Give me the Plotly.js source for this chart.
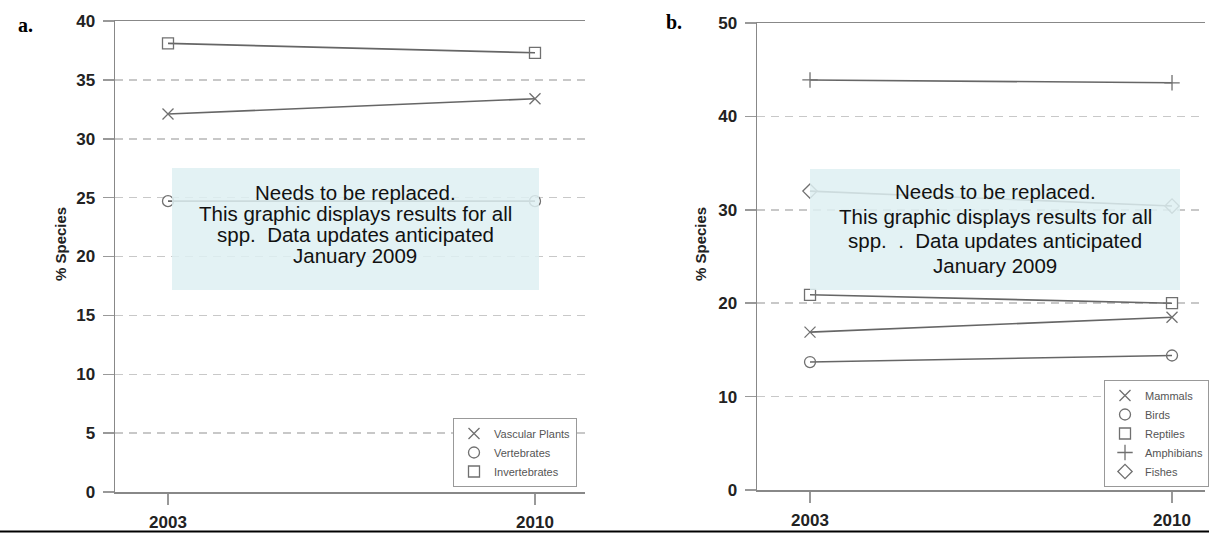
<!DOCTYPE html>
<html>
<head>
<meta charset="utf-8">
<script src="https://cdn.plot.ly/plotly-3.0.1.min.js"></script>
<style>
  html, body { margin: 0; padding: 0; background: #fff; }
  #chart { width: 1209px; height: 533px; }
</style>
</head>
<body>
<div id="chart"></div>
<script>
// Survey years shared by both panels
const years = [2003, 2010];

// Panel a: broad groups (% of species)
const groupsA = ["Vascular Plants", "Vertebrates", "Invertebrates"];
const vascularPlants = [32.1, 33.4];
const vertebrates = [24.7, 24.7];
const invertebrates = [38.1, 37.3];

// Panel b: vertebrate classes (% of species)
const groupsB = ["Mammals", "Birds", "Reptiles", "Amphibians", "Fishes"];
const mammals = [16.9, 18.5];
const birds = [13.7, 14.4];
const reptiles = [20.9, 20.0];
const amphibians = [43.9, 43.6];
const fishes = [32.0, 30.4];

const yTicksA = [0, 5, 10, 15, 20, 25, 30, 35, 40];
const yTicksB = [0, 10, 20, 30, 40, 50];

// Placeholder notes, one entry per text line
const noteA = ["Needs to be replaced.", "This graphic displays results for all",
               "spp.&nbsp; Data updates anticipated", "January 2009"];
const noteB = ["Needs to be replaced.", "This graphic displays results for all",
               "spp. &nbsp;. &nbsp;Data updates anticipated", "January 2009"];

const FONT = "Liberation Sans, Arial, sans-serif";
const LINE = "#666";
const MARK = "#707070";

function series(name, vals, symbol, xa, ya, legendId) {
  const common = { x: years, y: vals, xaxis: xa, yaxis: ya, hoverinfo: "skip" };
  return [
    Object.assign({}, common, {
      type: "scatter", mode: "lines", showlegend: false,
      line: { color: LINE, width: 1.6 }
    }),
    Object.assign({}, common, {
      type: "scatter", mode: "markers", name: name, legend: legendId,
      marker: { symbol: symbol, size: 11, color: MARK,
                line: { color: MARK, width: 1.3 } }
    })
  ];
}

const data = [].concat(
  series(groupsA[0], vascularPlants, "x-thin-open", "x", "y", "legend"),
  series(groupsA[1], vertebrates, "circle-open", "x", "y", "legend"),
  series(groupsA[2], invertebrates, "square-open", "x", "y", "legend"),
  series(groupsB[0], mammals, "x-thin-open", "x2", "y2", "legend2"),
  series(groupsB[1], birds, "circle-open", "x2", "y2", "legend2"),
  series(groupsB[2], reptiles, "square-open", "x2", "y2", "legend2"),
  series(groupsB[3], amphibians, "cross-thin-open", "x2", "y2", "legend2"),
  series(groupsB[4], fishes, "diamond-open", "x2", "y2", "legend2")
);

function xAxis(domain, range, anchor) {
  return {
    domain: domain, range: range, anchor: anchor,
    tickmode: "array", tickvals: years, ticktext: years.map(String),
    showgrid: false, zeroline: false,
    showline: true, linecolor: "#888", linewidth: 1.5, mirror: true,
    ticks: "outside", ticklen: 11, tickwidth: 1.5, tickcolor: "#999",
    ticklabelstandoff: 3,
    tickfont: { family: FONT, size: 17, color: "#222", weight: "bold" }
  };
}

function yAxis(domain, range, ticks, anchor) {
  return {
    domain: domain, range: range, anchor: anchor,
    tickmode: "array", tickvals: ticks,
    showgrid: true, gridcolor: "#c8c8c8", gridwidth: 1.5, griddash: "8px,6px",
    zeroline: false,
    showline: true, linecolor: "#888", linewidth: 1.5,
    ticks: "outside", ticklen: 11, tickwidth: 1.5, tickcolor: "#999",
    ticklabelstandoff: 4,
    tickfont: { family: FONT, size: 17, color: "#222", weight: "bold" }
  };
}

const legendStyle = {
  bgcolor: "#fff", bordercolor: "#999", borderwidth: 1,
  font: { family: FONT, size: 11, color: "#555" },
  xanchor: "left", yanchor: "top", itemwidth: 30
};

// Translucent note panel plus its centred text lines
function noteBox(x0, x1, y0, y1) {
  return {
    type: "rect", xref: "paper", yref: "paper", layer: "above",
    x0: x0 / 1209, x1: x1 / 1209, y0: 1 - y1 / 533, y1: 1 - y0 / 533,
    fillcolor: "rgba(222,240,242,0.85)", line: { width: 0 }
  };
}
function noteLines(lines, cx, ys) {
  return lines.map((t, i) => ({
    xref: "paper", yref: "paper", x: cx / 1209, y: 1 - ys[i] / 533,
    xanchor: "center", yanchor: "middle", showarrow: false, text: t,
    font: { family: FONT, size: 20.5, color: "#111" }
  }));
}

function yTitle(xpx) {
  return {
    xref: "paper", yref: "paper", x: xpx / 1209, y: 1 - 244 / 533,
    xanchor: "center", yanchor: "middle", textangle: -90, showarrow: false,
    text: "% Species",
    font: { family: FONT, size: 15, color: "#222", weight: "bold" }
  };
}

function panelLabel(text, xpx, ypx) {
  return {
    xref: "paper", yref: "paper", x: xpx / 1209, y: 1 - ypx / 533,
    xanchor: "left", yanchor: "middle", showarrow: false, text: text,
    font: { family: "Liberation Serif, Times New Roman, serif", size: 20, color: "#000", weight: "bold" }
  };
}

const layout = {
  width: 1209, height: 533,
  margin: { l: 0, r: 0, t: 0, b: 0 },
  paper_bgcolor: "#fff", plot_bgcolor: "rgba(0,0,0,0)",
  showlegend: true,
  xaxis: xAxis([115 / 1209, 585 / 1209], [2001.989, 2010.954], "y"),
  yaxis: yAxis([1 - 492 / 533, 1 - 21 / 533], [0, 40], yTicksA, "x"),
  xaxis2: xAxis([757 / 1209, 1205 / 1209], [2001.975, 2010.638], "y2"),
  yaxis2: yAxis([1 - 490 / 533, 1 - 23 / 533], [0, 50], yTicksB, "x2"),
  legend: Object.assign({}, legendStyle, { x: 453 / 1209, y: 1 - 418 / 533 }),
  legend2: Object.assign({}, legendStyle, { x: 1104 / 1209, y: 1 - 380 / 533 }),
  annotations: [].concat(
    noteLines(noteA, 355, [192.5, 213.5, 234.5, 255.5]),
    noteLines(noteB, 995, [192, 217, 240, 265]),
    [yTitle(60), yTitle(700), panelLabel("a.", 16, 25), panelLabel("b.", 664, 22)]
  ),
  shapes: [
    noteBox(172, 539, 168, 290),
    noteBox(810, 1180, 169, 290),
    { type: "line", xref: "paper", yref: "paper", x0: 0, x1: 1,
      y0: 1 - 531.5 / 533, y1: 1 - 531.5 / 533, line: { color: "#000", width: 2 } }
  ]
};

Plotly.newPlot("chart", data, layout, { displayModeBar: false, staticPlot: true });
</script>
</body>
</html>
